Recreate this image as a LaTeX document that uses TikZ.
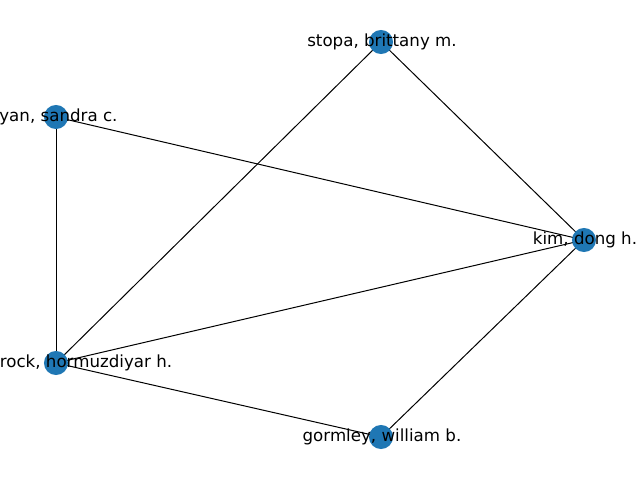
\documentclass[tikz,border=0pt]{standalone}
\usepackage{fontspec}
\setmainfont{DejaVu Sans}
\definecolor{nodeblue}{HTML}{1F77B4}
\begin{document}
\begin{tikzpicture}[x=0.72pt,y=-0.72pt,
  vertex/.style={circle,fill=nodeblue,draw=none,minimum size=17.3pt,inner sep=0pt},
  lbl/.style={font=\fontsize{12}{14}\selectfont,inner sep=0pt,anchor=center},
  edge/.style={draw=black,line width=0.72pt}]
  \clip (0,0) rectangle (640,480);
  \useasboundingbox (0,0) rectangle (640,480);
  % vertex positions
  \coordinate (pstopa) at (381,42);
  \coordinate (pryan) at (56,117);
  \coordinate (pkim) at (584,240);
  \coordinate (prock) at (56,363);
  \coordinate (pgormley) at (381,437);
  % edges
  \draw[edge] (pryan) -- (prock);
  \draw[edge] (pryan) -- (pkim);
  \draw[edge] (pstopa) -- (prock);
  \draw[edge] (pstopa) -- (pkim);
  \draw[edge] (prock) -- (pkim);
  \draw[edge] (prock) -- (pgormley);
  \draw[edge] (pgormley) -- (pkim);
  % vertices
  \node[vertex] (stopa) at (pstopa) {};
  \node[vertex] (ryan) at (pryan) {};
  \node[vertex] (kim) at (pkim) {};
  \node[vertex] (rock) at (prock) {};
  \node[vertex] (gormley) at (pgormley) {};
  % labels
  \node[lbl] (tstopa) at (382,42) {stopa, brittany m.};
  \node[lbl] (tryan) at (55,117) {ryan, sandra c.};
  \node[lbl] (tkim) at (585,240) {kim, dong h.};
  \node[lbl] (trock) at (86,363) {rock, hormuzdiyar h.};
  \node[lbl] (tgormley) at (382,437) {gormley, william b.};
\end{tikzpicture}
\end{document}
